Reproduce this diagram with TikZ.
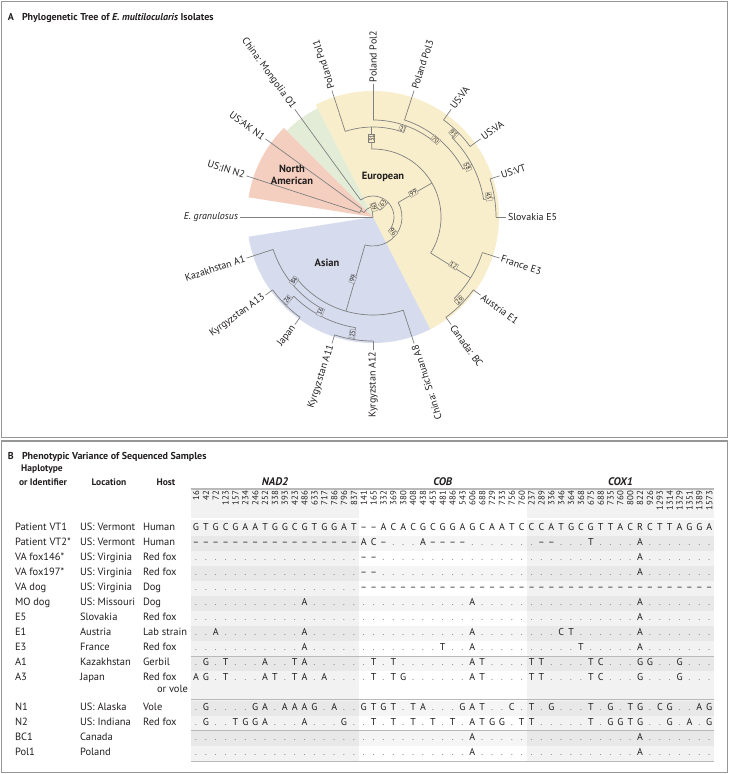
\documentclass[tikz,border=0pt]{standalone}
\usepackage{fontspec}
\setmainfont{PT Sans}
\setsansfont{PT Sans}
\definecolor{eur}{RGB}{249,238,203}
\definecolor{mon}{RGB}{227,236,214}
\definecolor{nam}{RGB}{244,207,192}
\definecolor{asi}{RGB}{214,220,238}
\definecolor{brc}{RGB}{128,128,128}
\definecolor{frame}{RGB}{150,150,150}
\definecolor{txt}{RGB}{35,31,32}
\newcount\seqk
\newcommand\seqrow[2]{\def\seqy{#1}\global\seqk=0 \seqloop#2\relax}
\def\seqloop#1{\ifx\relax#1\else\global\advance\seqk by 1
  \node[sq] (q\seqy-\the\seqk) at ({196+9.87*(\the\seqk-1)},\seqy) {\seqglyph#1};%
  \expandafter\seqloop\fi}
\def\seqglyph#1{\if-#1\textendash\else\if.#1{\color{black!45}.}\else#1\fi\fi}
\newcommand\trow[6]{\node[cell] (i#2) at (15,#1) {#3};\node[cell] (l#2) at (80,#1) {#4};\node[cell] (h#2) at (143,#1) {#5};\seqrow{#1}{#6}}
\begin{document}
\begin{tikzpicture}[x=1pt,y=-1pt,
  every node/.style={inner sep=0pt,outer sep=0pt},
  br/.style={draw=brc,line width=0.7pt},
  leaf/.style={font=\fontsize{10}{12}\selectfont,text=txt},
  boot/.style={font=\fontsize{6.3}{7}\selectfont,draw=brc,line width=0.3pt,inner sep=0.7pt,fill=eur,text=txt},
  clade/.style={font=\bfseries\fontsize{10.5}{12}\selectfont,align=center,text=txt},
  cell/.style={font=\fontsize{10.5}{12}\selectfont,anchor=west,text height=7.5pt,text depth=2.5pt,text=txt},
  hdr/.style={font=\bfseries\fontsize{9.5}{11}\selectfont,anchor=base,text=txt},
  gene/.style={font=\bfseries\itshape\fontsize{11}{13}\selectfont,anchor=base,text=txt},
  num/.style={font=\fontsize{8.8}{10}\selectfont,rotate=90,anchor=east,text=txt},
  sq/.style={font=\fontsize{10}{12}\selectfont,text height=7.5pt,text depth=2.5pt,text=txt},
  ttl/.style={font=\bfseries\fontsize{10}{12}\selectfont,anchor=base west,text=txt},
  sep/.style={draw=gray!55,line width=1pt},
  frm/.style={draw=frame,line width=1.4pt}]
\useasboundingbox (0,0) rectangle (729,774);
\fill[white] (0,0) rectangle (729,774);
% frames
\draw[frm] (1.5,1.5) rectangle (727.5,437.5);
\draw[frm] (1.5,441) rectangle (727.5,772.5);
% titles
\node[ttl] (ta) at (8,20) {A};
\node[ttl] (tat) at (22,20) {Phylogenetic Tree of \textit{E. multilocularis} Isolates};
\node[ttl] (tb) at (8,459) {B};
\node[ttl] (tbt) at (22,459) {Phenotypic Variance of Sequenced Samples};

% ---------------- tree ----------------
\begin{scope}[shift={(373,217)},y=1pt]
\fill[eur] (0,0) -- (-63:126) arc[start angle=-63,end angle=117,radius=126] -- cycle;
\fill[mon] (0,0) -- (117:122) arc[start angle=117,end angle=135,radius=122] -- cycle;
\fill[nam] (0,0) -- (135:126) arc[start angle=135,end angle=171,radius=126] -- cycle;
\fill[asi] (0,0) -- (189:126) arc[start angle=189,end angle=297,radius=126] -- cycle;
% root and outgroup
\draw[br] (0,0) -- (180:133);
\draw[br] (0,0) -- (98:10);
\draw[br] (44:10) arc[start angle=44,end angle=153,radius=10];
\draw[br] (153:10) -- (153:14);
\draw[br] (144:14) arc[start angle=144,end angle=162,radius=14];
\draw[br] (144:14) -- (144:133);
\draw[br] (162:14) -- (162:133);
\draw[br] (44:10) -- (44:21);
\draw[br] (-38:21) arc[start angle=-38,end angle=126,radius=21];
\draw[br] (126:21) -- (126:133);
\draw[br] (-38:21) -- (-38:29);
\draw[br] (-106:29) arc[start angle=-106,end angle=30,radius=29];
% European
\draw[br] (30:29) -- (30:68);
\draw[br] (-32:68) arc[start angle=-32,end angle=91,radius=68];
\draw[br] (91:68) -- (91:90);
\draw[br] (70:90) arc[start angle=70,end angle=108,radius=90];
\draw[br] (108:90) -- (108:133);
\draw[br] (70:90) -- (70:97);
\draw[br] (50:97) arc[start angle=50,end angle=90,radius=97];
\draw[br] (90:97) -- (90:133);
\draw[br] (50:97) -- (50:102);
\draw[br] (28:102) arc[start angle=28,end angle=72,radius=102];
\draw[br] (72:102) -- (72:133);
\draw[br] (28:102) -- (28:112);
\draw[br] (9:112) arc[start angle=9,end angle=45,radius=112];
\draw[br] (45:112) -- (45:120);
\draw[br] (36:120) arc[start angle=36,end angle=54,radius=120];
\draw[br] (54:120) -- (54:133);
\draw[br] (36:120) -- (36:133);
\draw[br] (9:112) -- (9:123);
\draw[br] (0:123) arc[start angle=0,end angle=18,radius=123];
\draw[br] (18:123) -- (18:133);
\draw[br] (0:123) -- (0:133);
\draw[br] (-32:68) -- (-32:115);
\draw[br] (-45:115) arc[start angle=-45,end angle=-18,radius=115];
\draw[br] (-18:115) -- (-18:133);
\draw[br] (-45:115) -- (-45:124);
\draw[br] (-54:124) arc[start angle=-54,end angle=-36,radius=124];
\draw[br] (-36:124) -- (-36:133);
\draw[br] (-54:124) -- (-54:133);
% Asian
\draw[br] (-106:29) -- (-106:98);
\draw[br] (-140:98) arc[start angle=-140,end angle=-72,radius=98];
\draw[br] (-72:98) -- (-72:133);
\draw[br] (-140:98) -- (-140:105);
\draw[br] (-162:105) arc[start angle=-162,end angle=-119,radius=105];
\draw[br] (-162:105) -- (-162:133);
\draw[br] (-119:105) -- (-119:112);
\draw[br] (-135:112) arc[start angle=-135,end angle=-99,radius=112];
\draw[br] (-135:112) -- (-135:124);
\draw[br] (-144:124) arc[start angle=-144,end angle=-126,radius=124];
\draw[br] (-144:124) -- (-144:133);
\draw[br] (-126:124) -- (-126:133);
\draw[br] (-99:112) -- (-99:124);
\draw[br] (-108:124) arc[start angle=-108,end angle=-90,radius=124];
\draw[br] (-108:124) -- (-108:133);
\draw[br] (-90:124) -- (-90:133);
% bootstrap values
\node[boot,rotate=90] (b31) at (91:79) {31};
\node[boot,rotate=-18] (b2) at (72:93) {2};
\node[boot,rotate=-40] (b70) at (51:99.5) {70};
\node[boot,rotate=-45] (b95) at (46:116) {95};
\node[boot,rotate=-62] (b58) at (28:107) {58};
\node[boot,rotate=-80] (b43) at (10:117.5) {43};
\node[boot,rotate=30] (b99e) at (31:47) {99};
\node[boot,rotate=-31] (b12) at (-31:94) {12};
\node[boot,rotate=45] (b26) at (-44:119.5) {26};
\node[boot,rotate=-50] (b96) at (-37:25) {96};
\node[boot,rotate=54] (b63) at (54:17) {63};
\node[boot,rotate=-70] (b09) at (84:10) {09};
\node[boot,fill=asi,rotate=71] (b99a) at (-108:65) {99};
\node[boot,fill=asi,rotate=55] (b84) at (-141:101.5) {84};
\node[boot,fill=asi,rotate=65] (b16) at (-119:108.5) {16};
\node[boot,fill=asi,rotate=50] (b24) at (-136:119) {24};
\node[boot,fill=asi,rotate=81] (b25) at (-100:118.5) {25};
% leaf labels
\node[leaf,anchor=west,rotate=108] (lp1) at (108:135) {Poland Pol1};
\node[leaf,anchor=west,rotate=90] (lp2) at (90:135) {Poland Pol2};
\node[leaf,anchor=west,rotate=72] (lp3) at (72:135) {Poland Pol3};
\node[leaf,anchor=west,rotate=54] (lva1) at (54:135) {US:VA};
\node[leaf,anchor=west,rotate=36] (lva2) at (36:135) {US:VA};
\node[leaf,anchor=west,rotate=18] (lvt) at (18:135) {US:VT};
\node[leaf,anchor=west] (le5) at (0:135) {Slovakia E5};
\node[leaf,anchor=west,rotate=-18] (le3) at (-18:135) {France E3};
\node[leaf,anchor=west,rotate=-36] (le1) at (-36:135) {Austria E1};
\node[leaf,anchor=west,rotate=-54] (lbc) at (-54:135) {Canada: BC};
\node[leaf,anchor=east,rotate=-54] (lo1) at (126:135) {China: Mongolia O1};
\node[leaf,anchor=east,rotate=-36] (ln1) at (144:135) {US:AK N1};
\node[leaf,anchor=east,rotate=-18] (ln2) at (162:135) {US:IN N2};
\node[leaf,anchor=east] (leg) at (180:135) {\itshape E. granulosus};
\node[leaf,anchor=east,rotate=18] (la1) at (-162:135) {Kazakhstan A1};
\node[leaf,anchor=east,rotate=36] (la13) at (-144:135) {Kyrgyzstan A13};
\node[leaf,anchor=east,rotate=54] (ljp) at (-126:135) {Japan};
\node[leaf,anchor=east,rotate=72] (la11) at (-108:135) {Kyrgyzstan A11};
\node[leaf,anchor=east,rotate=90] (la12) at (-90:135) {Kyrgyzstan A12};
\node[leaf,anchor=east,rotate=108] (la8) at (-72:135) {China: Sichuan A8};
% clade names
\node[clade] (cna) at (-81,42) {North\\American};
\node[clade] (ceu) at (10,40) {European};
\node[clade] (cas) at (-46,-46) {Asian};
\end{scope}

% ---------------- table ----------------
\fill[gray!10] (190.5,489) rectangle (358.8,761);
\fill[gray!10] (526.7,489) rectangle (714,761);
\foreach \yy in {543,573,603,633,663,708,738}
  \fill[black,opacity=0.04] (190.5,\yy-7.5) rectangle (714,\yy+7.5);
\draw[gray!55,line width=1.3pt] (190.5,489) -- (714,489);
\draw[white,line width=1.2pt] (190.5,519) -- (714,519);
\draw[sep] (190.5,656) -- (714,656);
\draw[sep] (190.5,699.5) -- (714,699.5);
\draw[sep] (190.5,730.5) -- (714,730.5);
\draw[sep] (190.5,761) -- (714,761);
% headers
\node[hdr] (hh1) at (42,471.5) {Haplotype};
\node[hdr] (hh2) at (43,485) {or Identifier};
\node[hdr] (hh3) at (109,485) {Location};
\node[hdr] (hh4) at (166,485) {Host};
\node[gene] (g1) at (275,485) {NAD2};
\node[gene] (g2) at (442.7,485) {COB};
\node[gene] (g3) at (620.5,485) {COX1};
\foreach \n [count=\k] in {16,42,72,123,157,234,246,252,338,393,423,486,633,717,786,796,837,141,165,332,369,380,408,438,453,481,486,543,606,688,729,733,756,760,237,289,336,346,364,368,675,688,735,760,800,822,926,1293,1314,1329,1351,1389,1573}
  \node[num] (n\k) at ({196+9.87*(\k-1)},491) {\n};
% rows
\trow{528}{r1}{Patient VT1}{US: Vermont}{Human}{GTGCGAATGGCGTGGAT --ACACGCGGAGCAATC CCATGCGTTACRCTTAGGA}
\trow{543}{r2}{Patient VT2*}{US: Vermont}{Human}{----------------- AC-...A----...... .--...T....A.......}
\trow{558}{r3}{VA fox146*}{US: Virginia}{Red fox}{................. --............... ...........A.......}
\trow{573}{r4}{VA fox197*}{US: Virginia}{Red fox}{................. --............... ...........A.......}
\trow{588}{r5}{VA dog}{US: Virginia}{Dog}{................. ----------------- -------------------}
\trow{603}{r6}{MO dog}{US: Missouri}{Dog}{...........A..... ...........A..... ...........A.......}
\trow{618}{r7}{E5}{Slovakia}{Red fox}{................. ................. ...........A.......}
\trow{633}{r8}{E1}{Austria}{Lab strain}{..A........A..... ...........A..... ...CT......A.......}
\trow{648}{r9}{E3}{France}{Red fox}{...........A..... ........T..A..... .....T.....A.......}
\trow{663}{r10}{A1}{Kazakhstan}{Gerbil}{.G.T...A..TA..... .T.T.......AT.... TT....TC...GG..G...}
\trow{678}{r11}{A3}{Japan}{Red fox}{AG.T...AT.TA.A... .T.TG......AT.... TT....TC...G...G...}
\node[cell] (hr11b) at (157,690) {or vole};
\trow{708}{r12}{N1}{US: Alaska}{Vole}{.G....GA.AAAG.A.. GTGT.TA...GAT..C. T.G...T.G.TG.CG..AG}
\trow{723}{r13}{N2}{US: Indiana}{Red fox}{.G..TGGA...A...G. .T.T.T.T.T.ATGG.T T.....T.GGTG..G.A.G}
\trow{738}{r14}{BC1}{Canada}{}{................. ...........A..... ...........A.......}
\trow{753}{r15}{Pol1}{Poland}{}{................. ...........A..... ...........A.......}
\end{tikzpicture}
\end{document}
